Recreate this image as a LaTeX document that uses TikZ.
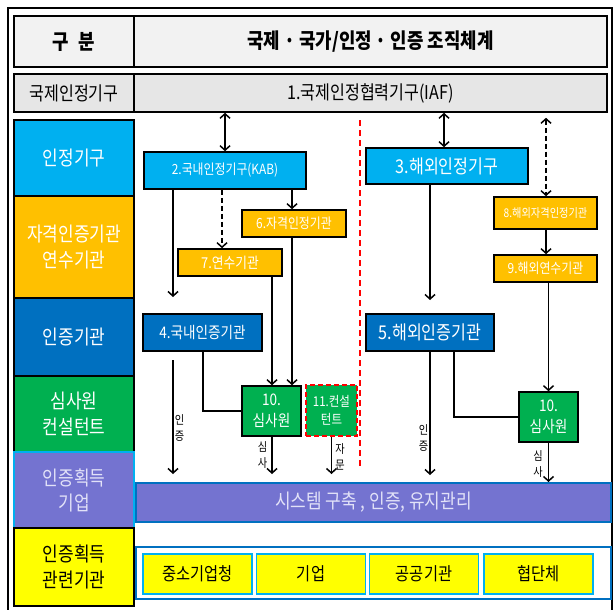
\documentclass[tikz,border=0pt]{standalone}
\usepackage{fontspec}
\setmainfont{Noto Sans CJK KR}[FakeStretch=0.85]
\usetikzlibrary{arrows.meta}

\definecolor{kcyan}{HTML}{00B0F0}
\definecolor{korange}{HTML}{FFC000}
\definecolor{kblue}{HTML}{0070C0}
\definecolor{kgreen}{HTML}{00B050}
\definecolor{kpurple}{HTML}{7473D0}
\definecolor{kyellow}{HTML}{FFFF00}
\definecolor{klight}{HTML}{F2F2F2}
\definecolor{kgray}{HTML}{E6E6E6}
\definecolor{kred}{HTML}{FF0000}
\definecolor{klav}{HTML}{E2E2F8}

\tikzset{
  sz/.style 2 args={minimum width=#1pt, minimum height=#2pt},
  head/.style={draw, line width=1.6pt, fill=klight, inner sep=0pt,
    font=\fontsize{21}{21}\selectfont\bfseries},
  rowhead/.style={draw, line width=1.6pt, fill=kgray, inner sep=0pt,
    font=\fontsize{19}{19}\selectfont},
  colbox/.style={draw, line width=1.6pt, inner sep=0pt, align=center, text=white,
    minimum width=120pt, font=\fontsize{20}{26}\selectfont},
  org/.style={draw, line width=1.6pt, inner sep=0pt, align=center, text=white,
    font=\fontsize{14}{18}\selectfont},
  sbox/.style={draw=kcyan, line width=1.5pt, fill=kyellow, inner sep=0pt,
    sz={109}{40}, font=\fontsize{18}{18}\selectfont},
  longdash/.style={dash pattern=on 5pt off 3pt},
  flow/.style={line width=1.5pt, -{Straight Barb[length=4.5pt,width=10pt]}},
  both/.style={line width=1.5pt, {Straight Barb[length=4.5pt,width=10pt]}-{Straight Barb[length=4.5pt,width=10pt]}},
  link/.style={line width=1.5pt},
  lab/.style={font=\fontsize{12}{16}\selectfont, align=center, inner sep=1pt}
}

\begin{document}
\begin{tikzpicture}[x=1pt,y=-1pt]
    \useasboundingbox (0,0) rectangle (613,610);

    % Frame
    \draw[line width=1.3pt] (8,614) -- (8,8) -- (612,8) -- (612,614);

    % Header
    \node[head, sz={120}{51}] (gubun) at (74,41.5) {구\hspace{0.45em}분};
    \node[head, sz={473}{51}] (title) at (370.5,41.5) {국제 · 국가/인정 · 인증 조직체계};
    \node[rowhead, sz={120}{38}] (rowlab) at (74,93) {국제인정기구};
    \node[rowhead, sz={473}{38}] (iaf) at (370.5,93) {1.국제인정협력기구(IAF)};

    % Left column
    \node[colbox, fill=kcyan,   minimum height=76pt]  (lc1) at (74,158) {인정기구};
    \node[colbox, fill=korange, minimum height=102pt] (lc2) at (74,247) {자격인증기관\\연수기관};
    \node[colbox, fill=kblue,   minimum height=78pt]  (lc3) at (74,337) {인증기관};
    \node[colbox, fill=kgreen,  minimum height=76pt]  (lc4) at (74,414) {심사원\\컨설턴트};
    \node[colbox, fill=kpurple, draw=kcyan, line width=1.2pt, text=klav,
          minimum height=76pt, font=\fontsize{20}{25}\selectfont] (lc5) at (74,490) {인증획득\\기업};
    \node[colbox, fill=kyellow, text=black, minimum height=78pt] (lc6) at (74,567) {인증획득\\관련기관};

    % Domestic
    \node[org, fill=kcyan,   sz={162}{37}] (kab)    at (225,170.5) {2.국내인정기구(KAB)};
    \node[org, fill=korange, sz={104}{27}] (quali)  at (294,223.5) {6.자격인정기관};
    \node[org, fill=korange, sz={104}{27}, font=\fontsize{15}{15}\selectfont] (train) at (230,262.5) {7.연수기관};
    \node[org, fill=kblue,   sz={119}{37}, font=\fontsize{16}{16}\selectfont] (domcb) at (202.5,332.5) {4.국내인증기관};
    \node[org, fill=kgreen,  sz={59}{50},  font=\fontsize{16}{21}\selectfont] (aud1)  at (271.5,411) {10.\\심사원};
    \node[org, fill=kgreen,  sz={51}{51},  draw=kred, longdash,
          font=\fontsize{13.5}{18}\selectfont] (cons) at (331.5,410.5) {11.컨설\\턴트};

    % Overseas
    \node[org, fill=kcyan,   sz={162}{36}, font=\fontsize{19}{19}\selectfont] (fab) at (447,166) {3.해외인정기구};
    \node[org, fill=korange, sz={103}{32}, font=\fontsize{12}{12}\selectfont] (fquali) at (545.5,213) {8.해외자격인정기관};
    \node[org, fill=korange, sz={103}{27}] (ftrain) at (545.5,268.5) {9.해외연수기관};
    \node[org, fill=kblue,   sz={128}{37}, font=\fontsize{19}{19}\selectfont] (fcb) at (430,332.5) {5.해외인증기관};
    \node[org, fill=kgreen,  sz={59}{50},  font=\fontsize{16}{21}\selectfont] (aud2) at (548.5,417) {10.\\심사원};

    % Companies
    \node[draw=kblue, line width=2pt, fill=kpurple, text=klav, inner sep=0pt, sz={475}{39},
          font=\fontsize{20}{20}\selectfont] (bar) at (373.5,502.5) {시스템 구축 , 인증, 유지관리};
    \node[draw=kblue, line width=2pt, fill=white, sz={475}{52}] (grp) at (373.5,573) {};
    \node[sbox] (sme)   at (197.5,574) {중소기업청};
    \node[sbox] (ent)   at (311,574)   {기업};
    \node[sbox] (pub)   at (424,574)   {공공기관};
    \node[sbox] (assoc) at (538.5,574) {협단체};

    % Lanes
    \coordinate (x1) at (173,0);
    \coordinate (x2) at (222,0);
    \coordinate (x3) at (272,0);
    \coordinate (x4) at (292,0);
    \coordinate (x5) at (203,0);
    \coordinate (xa) at (444,0);
    \coordinate (x7) at (430,0);
    \coordinate (x8) at (546,0);
    \coordinate (x9) at (454,0);
    \coordinate (e1) at (173,297);
    \coordinate (c1) at (173,360);
    \coordinate (c2) at (173,474);
    \coordinate (e3) at (272,474);
    \coordinate (e6) at (331.5,474);
    \coordinate (e7) at (430,300);
    \coordinate (e8) at (430,475);
    \coordinate (r1) at (360,120);
    \coordinate (r2) at (360,468);

    % Arrows, domestic
    \draw[both] (iaf.south -| kab.north) -- (kab.north);
    \draw[flow] (kab.south -| x1) -- (e1);
    \draw[flow, longdash] (kab.south -| x2) -- (train.north -| x2);
    \draw[flow] (kab.south -| x4) -- (quali.north -| x4);
    \draw[flow] (quali.south -| x4) -- (aud1.north -| x4);
    \draw[flow] (train.south -| x3) -- (aud1.north -| x3);
    \draw[link] (domcb.south -| x5) |- (aud1.west);
    \draw[flow] (c1) -- node[lab, right, pos=.6] {인\\증} (c2);
    \draw[flow] (aud1.south -| x3) -- node[lab, left=3pt] {심\\사} (e3);
    \draw[flow] (cons.south) -- node[lab, right=2pt, pos=.55] {자\\문} (e6);

    % Border line
    \draw[kred, line width=1.8pt, dash pattern=on 6pt off 4pt] (r1) -- (r2);

    % Arrows, overseas
    \draw[both] (iaf.south -| xa) -- (fab.north -| xa);
    \draw[both, longdash, shorten <=5pt] (iaf.south -| x8) -- (fquali.north -| x8);
    \draw[flow] (fab.south -| x7) -- (e7);
    \draw[flow] (fquali.south -| x8) -- (ftrain.north -| x8);
    \draw[flow] (ftrain.south -| aud2.north) -- (aud2.north);
    \draw[link] (fcb.south -| x9) |- (aud2.west);
    \draw[flow] (fcb.south -| x7) -- node[lab, left, pos=.7] {인\\증} (e8);
    \draw[flow] (aud2.south) -- node[lab, left=4pt, pos=.55] {심\\사} (bar.north -| aud2.south);
\end{tikzpicture}
\end{document}
